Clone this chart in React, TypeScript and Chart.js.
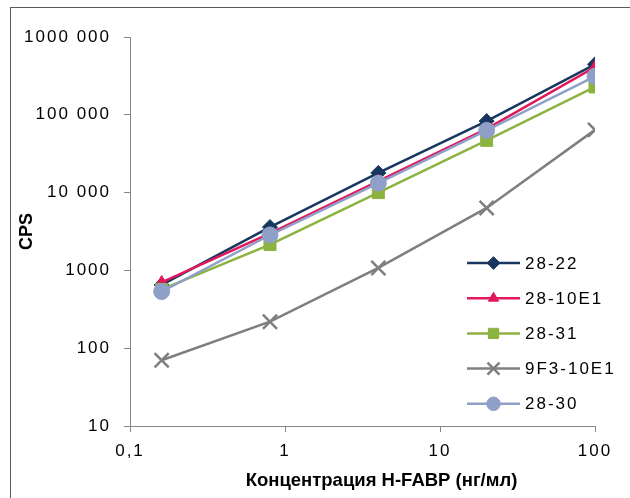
import React, { useEffect, useRef } from 'react';
import { Chart, registerables } from 'chart.js';
import { drawPoint } from 'chart.js/helpers';

Chart.register(...registerables);

// ---- Data ----
const concentrations = [0.16, 0.8, 4, 20, 100];
const seriesNames = ['28-22', '28-10E1', '28-31', '9F3-10E1', '28-30'];
const values2822 = [650, 3600, 17900, 83000, 445000];
const values2810E1 = [700, 3000, 14000, 66000, 410000];
const values2831 = [570, 2150, 10000, 47000, 228000];
const values9F310E1 = [70, 219, 1075, 6350, 64000];
const values2830 = [535, 2850, 13200, 63000, 312000];
const xTickValues = [0.1, 1, 10, 100];
const xTickLabels = ['0,1', '1', '10', '100'];
const yTickValues = [10, 100, 1000, 10000, 100000, 1000000];
const yTickLabels = ['10', '100', '1000', '10 000', '100 000', '1000 000'];
const xTitle = 'Концентрация H-FABP (нг/мл)';
const yTitle = 'CPS';

const seriesValues = [values2822, values2810E1, values2831, values9F310E1, values2830];

const FONT = '"Liberation Sans", Arial, sans-serif';

const seriesStyles = [
  { color: '#17375E', pointStyle: 'rectRot', radius: 7.5, borderWidth: 1 },
  { color: '#E2185B', pointStyle: 'triangle', radius: 7, borderWidth: 1 },
  { color: '#8CB33F', pointStyle: 'rect', radius: 8.5, borderWidth: 1 },
  { color: '#7F7F7F', pointStyle: 'crossRot', radius: 10, borderWidth: 2.5 },
  { color: '#8FA0C8', pointStyle: 'circle', radius: 8, borderWidth: 1 },
];

const legendAndSpacingPlugin = {
  id: 'customLegend',
  afterDatasetsDraw(chart: any) {
    (chart.ctx as any).letterSpacing = '2px';
  },
  afterDraw(chart: any) {
    const ctx = chart.ctx as any;
    const area = chart.chartArea;
    ctx.save();
    // x axis title
    ctx.letterSpacing = '0px';
    ctx.font = `bold 18.5px ${FONT}`;
    ctx.fillStyle = '#000';
    ctx.textAlign = 'center';
    ctx.textBaseline = 'middle';
    ctx.fillText(xTitle, (area.left + area.right) / 2 + 19, chart.height - 17);

    // legend
    ctx.letterSpacing = '2px';
    ctx.font = `17px ${FONT}`;
    ctx.textAlign = 'left';
    const lineX0 = area.right - 128;
    const lineX1 = area.right - 75;
    const markX = (lineX0 + lineX1) / 2;
    const top = area.top + 226;
    const step = 35.2;
    seriesNames.forEach((name, i) => {
      const st = seriesStyles[i];
      const y = top + i * step;
      ctx.strokeStyle = st.color;
      ctx.lineWidth = 2.5;
      ctx.beginPath();
      ctx.moveTo(lineX0, y);
      ctx.lineTo(lineX1, y);
      ctx.stroke();
      ctx.fillStyle = st.color;
      ctx.strokeStyle = st.color;
      ctx.lineWidth = st.borderWidth;
      drawPoint(ctx, { pointStyle: st.pointStyle, radius: st.radius * 0.85, borderWidth: st.borderWidth, rotation: 0 } as any, markX, y);
      ctx.fillStyle = '#000';
      ctx.fillText(name, lineX1 + 5, y + 1);
    });
    ctx.restore();
    ctx.letterSpacing = '0px';
  },
};

export default function App() {
  const canvasRef = useRef<HTMLCanvasElement | null>(null);

  useEffect(() => {
    if (!canvasRef.current) return;
    const datasets = seriesNames.map((name, i) => ({
      label: name,
      data: concentrations.map((x, j) => ({ x, y: seriesValues[i][j] })),
      borderColor: seriesStyles[i].color,
      backgroundColor: seriesStyles[i].color,
      pointBackgroundColor: seriesStyles[i].color,
      pointBorderColor: seriesStyles[i].color,
      pointStyle: seriesStyles[i].pointStyle,
      pointRadius: seriesStyles[i].radius,
      pointBorderWidth: seriesStyles[i].borderWidth,
      borderWidth: 2.5,
      tension: 0,
      fill: false,
      order: seriesNames.length - i,
    }));

    const chart = new Chart(canvasRef.current, {
      type: 'line',
      data: { datasets } as any,
      plugins: [legendAndSpacingPlugin],
      options: {
        responsive: false,
        animation: false,
        layout: { padding: { left: 0, right: 35, top: 37, bottom: 0 } },
        plugins: {
          legend: { display: false },
          tooltip: { enabled: false },
        },
        scales: {
          x: {
            type: 'logarithmic',
            min: 0.1,
            max: 100,
            afterBuildTicks: (scale: any) => {
              scale.ticks = xTickValues.map((v) => ({ value: v }));
            },
            afterFit: (scale: any) => {
              scale.height = 72;
            },
            ticks: {
              z: 1,
              autoSkip: false,
              maxRotation: 0,
              padding: 9,
              color: '#000',
              font: { family: FONT, size: 17 },
              callback: (value: any) => {
                const idx = xTickValues.indexOf(Number(value));
                return idx >= 0 ? xTickLabels[idx] : '';
              },
            },
            grid: {
              drawOnChartArea: false,
              drawTicks: true,
              tickLength: 6,
              color: '#868686',
            },
            border: { color: '#868686', width: 1 },
          },
          y: {
            type: 'logarithmic',
            min: 10,
            max: 1000000,
            afterBuildTicks: (scale: any) => {
              scale.ticks = yTickValues.map((v) => ({ value: v }));
            },
            afterFit: (scale: any) => {
              scale.width = 130;
            },
            ticks: {
              z: 1,
              autoSkip: false,
              padding: 13,
              color: '#000',
              font: { family: FONT, size: 17 },
              callback: (value: any) => {
                const idx = yTickValues.indexOf(Number(value));
                return idx >= 0 ? yTickLabels[idx] : '';
              },
            },
            grid: {
              drawOnChartArea: false,
              drawTicks: true,
              tickLength: 6,
              color: '#868686',
            },
            border: { color: '#868686', width: 1 },
            title: {
              display: true,
              text: yTitle,
              color: '#000',
              font: { family: FONT, size: 18, weight: 'bold' },
              padding: { top: 16, bottom: 0 },
            },
          },
        },
      } as any,
    });
    return () => chart.destroy();
  }, []);

  return (
    <div style={{ position: 'fixed', left: 0, top: 0, width: 630, height: 498, background: '#fff', overflow: 'hidden' }}>
      <div style={{ position: 'absolute', left: 10, top: 7, width: 700, height: 600, border: '1px solid #5a5a5a' }} />
      <canvas ref={canvasRef} width={630} height={498} style={{ position: 'absolute', left: 0, top: 0 }} />
    </div>
  );
}
